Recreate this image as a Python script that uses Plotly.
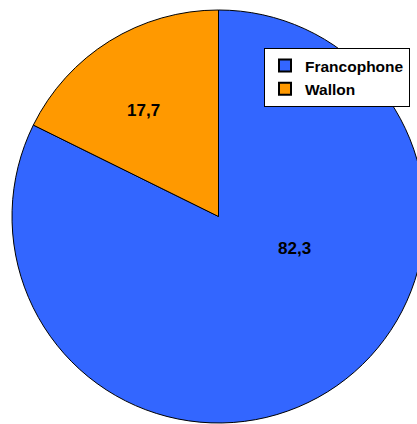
import plotly.graph_objects as go

labels = ["Francophone", "Wallon"]
values = [82.3, 17.7]
text_labels = ["82,3", "17,7"]
colors = ["#3366FF", "#FF9900"]

# label centres in pixels (layout only)
label_px = [(294.5, 248), (143.5, 110.5)]

fig = go.Figure(go.Pie(
    labels=labels,
    values=values,
    textinfo="none",
    sort=False,
    direction="clockwise",
    rotation=0,
    marker=dict(colors=colors, line=dict(color="black", width=1)),
    hoverinfo="label+value",
))

W, H = 425, 424
ml, mt, mr, mb = 12, 10, 0, 1
pw, ph = W - ml - mr, H - mt - mb

def px2paper(x, y):
    return (x - ml) / pw, 1 - (y - mt) / ph

annotations = []
for t, (lx, ly) in zip(text_labels, label_px):
    ax, ay = px2paper(lx, ly)
    annotations.append(dict(
        x=ax, y=ay, xref="paper", yref="paper", text=t, showarrow=False,
        xanchor="center", yanchor="middle",
        font=dict(family="Liberation Sans, Arial", size=17, color="black", weight="bold"),
    ))

lgx, lgy = px2paper(264, 48)
fig.update_layout(
    width=W, height=H,
    margin=dict(l=ml, r=mr, t=mt, b=mb, pad=0),
    paper_bgcolor="white",
    plot_bgcolor="white",
    showlegend=True,
    annotations=annotations,
    legend=dict(
        x=lgx, y=lgy,
        xanchor="left", yanchor="top",
        bordercolor="black", borderwidth=1,
        bgcolor="white",
        font=dict(family="Liberation Sans, Arial", size=15.5, color="black", weight="bold"),
        itemsizing="constant",
        itemwidth=30,
    ),
)

fig.write_html(
    "out.html",
    config={"displayModeBar": False},
    post_script="document.body.style.margin='0';document.body.style.overflow='hidden';document.documentElement.style.overflow='hidden';",
)
